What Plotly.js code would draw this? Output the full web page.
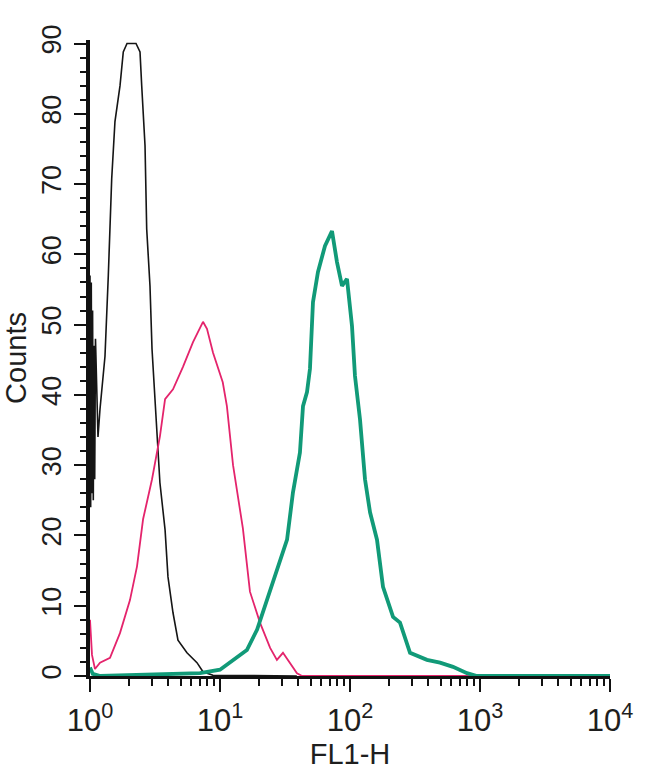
<!DOCTYPE html>
<html>
<head>
<meta charset="utf-8">
<script src="https://cdn.plot.ly/plotly-3.0.1.min.js"></script>
<style>
  html, body { margin: 0; padding: 0; background: #fff; }
  #plot { width: 650px; height: 771px; }
</style>
</head>
<body>
<div id="plot"></div>
<script>
// Isotype control (black)
const isoX = [1.0, 1.012, 1.023, 1.035, 1.047, 1.06, 1.073, 1.087, 1.102, 1.152, 1.194, 1.259, 1.304, 1.383, 1.469, 1.556, 1.702, 1.803, 1.926,
  2.259, 2.425, 2.499, 2.65, 2.73, 2.894, 3.0, 3.26, 3.45, 3.78, 3.98, 4.35, 4.75, 5.57, 6.65, 7.40, 8.83, 39];
const isoY = [57, 24, 56, 26, 52, 25, 47, 28, 48, 34, 38, 43, 45.5, 57, 70.8, 78.9, 84, 88.8, 90,
  90, 88.8, 84, 75.5, 63.6, 55.5, 46.5, 34.7, 27.5, 20.8, 14.1, 9, 5.1, 3.3, 1.9, 0.6, 0.1, 0];

// Second control (pink)
const ctrlX = [1.0, 1.036, 1.092, 1.194, 1.425, 1.70, 2.03, 2.30, 2.56, 3.0, 3.45, 3.78, 4.35, 5.19, 6.20, 7.40, 7.94,
  8.84, 10.5, 11.3, 12.6, 15.0, 17.0, 20.3, 24.3, 27.4, 30.5, 39.1, 42.8, 900];
const ctrlY = [8, 3, 1, 1.9, 2.6, 6.1, 10.8, 15.6, 22.3, 28, 34.1, 39.4, 40.8, 44, 47.5, 50.4, 49.4,
  46, 41.8, 38.4, 30, 21, 12, 7.6, 4, 2.3, 3.3, 0.4, 0, 0];

// Stained sample (teal)
const sampleX = [1.0, 1.05, 1.2, 7.02, 10.0, 12.6, 16.1, 19.3, 23.0, 27.4, 32.8, 36.4, 41.2, 43.5, 46.7, 49.2, 51.9,
  56.7, 64.2, 72.7, 79.4, 86.8, 94.8, 103.6, 109.2, 119.4, 130.4, 142.6, 161.3, 179.4, 214.3, 242.5,
  289.6, 390.8, 492.4, 619.6, 794.3, 948, 10000];
const sampleY = [1.2, 0.3, 0, 0.4, 0.9, 2.3, 3.7, 6.6, 10.8, 14.7, 19.4, 26.1, 31.8, 38.4, 40.4, 43.7, 53.2,
  57.5, 61.2, 63.3, 58.9, 55.5, 56.5, 49.8, 42.7, 36.5, 28, 23.3, 19.4, 12.7, 8.4, 7.6,
  3.3, 2.3, 1.9, 1.3, 0.4, 0, 0];

const xTickVals = [1, 10, 100, 1000, 10000];
const xTickText = ['10<sup>0</sup>', '10<sup>1</sup>', '10<sup>2</sup>', '10<sup>3</sup>', '10<sup>4</sup>'];

// minor ticks 2..9 in every decade
const minorVals = [];
for (let d = 1; d < 10000; d *= 10) {
  for (let k = 2; k < 10; k++) minorVals.push(k * d);
}

const data = [
  {x: isoX, y: isoY, mode: 'lines', line: {color: '#151515', width: 1.6}, hoverinfo: 'skip'},
  {x: ctrlX, y: ctrlY, mode: 'lines', line: {color: '#e4246c', width: 1.8}, hoverinfo: 'skip'},
  {x: sampleX, y: sampleY, mode: 'lines', line: {color: '#119a78', width: 3.8}, hoverinfo: 'skip'}
];

const layout = {
  width: 650,
  height: 771,
  margin: {l: 90, r: 40, t: 40, b: 95},
  showlegend: false,
  paper_bgcolor: '#fff',
  plot_bgcolor: '#fff',
  font: {family: 'Liberation Sans, Arial, sans-serif', size: 27, color: '#1e1e1e'},
  xaxis: {
    type: 'log',
    range: [0, 4],
    tickmode: 'array',
    tickvals: xTickVals,
    ticktext: xTickText,
    tickfont: {size: 31},
    ticks: 'outside',
    ticklen: 13,
    tickwidth: 2,
    tickcolor: '#111',
    ticklabelstandoff: 2,
    minor: {tickmode: 'array', tickvals: minorVals, ticks: 'outside', ticklen: 7, tickwidth: 2, tickcolor: '#111', showgrid: false},
    showline: true,
    linecolor: '#111',
    linewidth: 3,
    showgrid: false,
    zeroline: false,
    title: {text: 'FL1-H', font: {size: 29}, standoff: 0}
  },
  yaxis: {
    range: [0, 90.5],
    tickmode: 'linear',
    tick0: 0,
    dtick: 10,
    tickangle: -90,
    tickfont: {size: 27},
    ticks: 'outside',
    ticklen: 12,
    tickwidth: 2,
    tickcolor: '#111',
    ticklabelstandoff: 2,
    minor: {dtick: 2, ticks: 'outside', ticklen: 6, tickwidth: 2, tickcolor: '#111', showgrid: false},
    showline: true,
    linecolor: '#111',
    linewidth: 4,
    showgrid: false,
    zeroline: false,
    title: {text: 'Counts', font: {size: 29}, standoff: 14}
  }
};

Plotly.newPlot('plot', data, layout, {staticPlot: true});
</script>
</body>
</html>
